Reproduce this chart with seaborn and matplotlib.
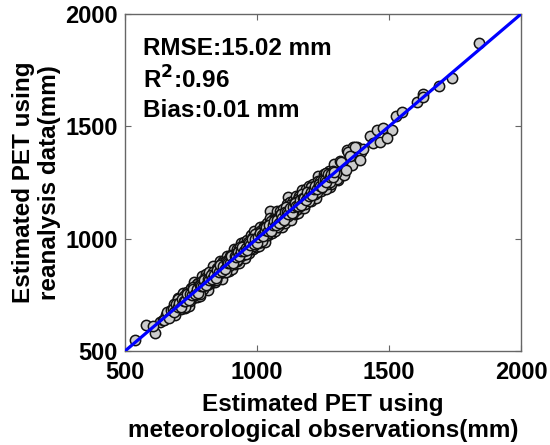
import matplotlib
matplotlib.use("Agg")
import matplotlib.pyplot as plt
import seaborn as sns
import pandas as pd

# Estimated PET: meteorological observations (x) vs reanalysis data (y), mm
obs_pet = [
    538, 580, 614, 633, 605, 645, 655, 662, 670, 678, 685, 690, 695, 700,
    705, 710, 715, 718, 722, 725, 730, 733, 738, 740, 744, 748, 752, 755, 758, 760,
    764, 767, 770, 773, 776, 779, 782, 785, 788, 790, 793, 796, 799,
    802, 805, 808, 811, 814, 817, 820, 823, 826, 829, 832, 835, 838, 840, 843, 846,
    849, 852, 855, 858, 861, 864, 867, 870, 873, 876, 879, 882, 885, 888, 891, 894,
    897, 900,
    903, 906, 909, 912, 915, 918, 921, 924, 927, 930, 933, 936, 939, 942, 945, 948,
    951, 954, 957, 960, 963, 966, 969, 972, 975, 978, 981, 984, 987, 990, 993, 996, 999,
    1002, 1005, 1008, 1011, 1014, 1017, 1020, 1023, 1026, 1029, 1032, 1035, 1038, 1041,
    1044, 1047, 1049, 1050, 1053, 1056, 1059, 1062, 1065, 1068, 1071, 1074, 1077, 1080,
    1083, 1086, 1089, 1092, 1095, 1098,
    1101, 1104, 1107, 1110, 1113, 1116, 1119, 1119, 1122, 1125, 1128, 1131, 1134, 1137,
    1140, 1143, 1146, 1149, 1152, 1155, 1158, 1161, 1164, 1167, 1170, 1173, 1176, 1179,
    1182, 1185, 1188, 1191, 1194, 1197,
    1200, 1205, 1210, 1215, 1220, 1225, 1230, 1235, 1240, 1245, 1250, 1255, 1260, 1265,
    1270, 1275, 1277, 1280, 1285, 1290, 1295, 1300,
    1305, 1307, 1310, 1316, 1322, 1328, 1335, 1340, 1342, 1348, 1355, 1362, 1365, 1368,
    1375, 1377, 1382, 1388, 1395, 1400,
    1428, 1453, 1479, 1510, 1441, 1466, 1491,
    1527, 1548, 1605, 1628, 1628, 1689, 1737, 1841,
    690, 702, 712, 720, 728, 735, 742, 750, 757, 763,
    771, 778, 784, 792, 798, 806, 813, 819, 827, 833,
    841, 847, 853, 860, 866, 872, 880, 886, 893, 899,
    905, 911, 918, 925, 931, 938, 944, 950, 956, 963,
    970, 976, 983, 989, 995, 1001, 1007, 1013, 1019, 1025,
    1031, 1037, 1043, 1051, 1058, 1064, 1070, 1076, 1082, 1088,
    1094, 1100, 1106, 1112, 1118, 1124, 1130, 1136, 1142, 1148,
    1154, 1160, 1166, 1172, 1178, 1184, 1190, 1196, 1203, 1212,
    1222, 1232, 1242, 1252, 1262, 1272, 1282, 1292, 1302, 1315,
    1330, 1345, 1358, 1372, 1390,
    708, 716, 724, 732, 740, 748, 756, 764, 772, 780,
    788, 796, 804, 812, 820, 828, 836, 844, 852, 860,
    868, 876, 884, 892, 900, 908, 916, 924, 932, 940,
    948, 956, 964, 972, 980, 988, 996, 1004, 1012, 1020,
    1028, 1036, 1044, 1052, 1060, 1068, 1076, 1084, 1092, 1100,
    1108, 1116, 1124, 1132, 1140, 1148, 1156, 1164, 1172, 1180,
    1188, 1196, 1206, 1218, 1230, 1242, 1254, 1266,
    648, 659, 667, 676, 684, 693, 701, 709, 717, 726,
    734, 743, 751, 759, 768, 776, 785, 793, 801, 810,
    818, 826, 835, 843, 851, 859, 867, 875, 884, 892,
    901, 909, 917, 926, 934, 942, 951, 959, 967, 976,
    984, 993, 1001, 1010, 1018, 1027, 1035, 1043, 1052, 1060,
    1069, 1077, 1086, 1094, 1103, 1111, 1120, 1128, 1137, 1145,
    1154, 1162, 1171, 1179, 1188, 1196, 1205, 1214, 1226, 1238,
    1250, 1262, 1275, 1288, 1300, 1318, 1336, 1352,
    681, 687, 693, 699, 705, 711, 717, 723, 729, 735,
    741, 747, 753, 759, 765, 771, 777, 783, 789, 795,
    801, 807, 813, 819, 825, 831, 837, 843, 849, 855,
    861, 867, 873, 879, 885, 891, 897, 903, 909, 915,
    921, 927, 933, 939, 945, 951, 957, 963, 969, 975,
    981, 987, 993, 999, 1005, 1011, 1017, 1023, 1029, 1035,
    1041, 1047, 1053, 1059, 1065, 1071, 1077, 1083, 1089, 1095,
    1101, 1107, 1113, 1119, 1125, 1131, 1137, 1143, 1149, 1155,
    1161, 1167, 1173, 1179, 1185, 1191, 1197, 1203, 1209, 1215,
    1221, 1227, 1233, 1239, 1245, 1251, 1257, 1263, 1269, 1275,
    1281, 1287, 1293,
]
rean_pet = [
    549, 616, 581, 630, 612, 640, 662, 650, 675, 668, 690, 680, 702, 695,
    712, 700, 725, 710, 730, 718, 722, 745, 728, 748, 735, 760, 740, 752, 770, 748,
    758, 775, 762, 768, 790, 770, 778, 800, 775, 785, 805, 790, 792,
    812, 798, 818, 805, 826, 810, 815, 840, 818, 825, 845, 828, 832, 855, 835, 850,
    842, 865, 848, 852, 875, 858, 866, 880, 862, 872, 895, 875, 880, 900, 882, 890,
    912, 893,
    905, 925, 900, 915, 930, 910, 918, 940, 920, 928, 948, 930, 935, 960, 938, 945,
    968, 948, 955, 975, 955, 962, 985, 965, 970, 995, 975, 982, 1005, 985, 988, 1015, 992,
    1000, 1025, 1000, 1008, 1030, 1012, 1018, 1040, 1020, 1026, 1048, 1030, 1035, 1055,
    1038, 1042, 1124, 1062, 1045, 1052, 1070, 1055, 1060, 1080, 1065, 1070, 1088, 1072,
    1078, 1098, 1082, 1085, 1105, 1090,
    1098, 1115, 1100, 1105, 1122, 1108, 1187, 1112, 1135, 1118, 1120, 1140, 1126, 1130,
    1150, 1135, 1140, 1158, 1142, 1148, 1165, 1150, 1155, 1172, 1160, 1165, 1180, 1168,
    1172, 1190, 1178, 1182, 1198, 1188,
    1195, 1215, 1200, 1210, 1228, 1215, 1222, 1240, 1230, 1238, 1255, 1245, 1252, 1270,
    1258, 1268, 1231, 1285, 1275, 1282, 1300, 1290,
    1300, 1261, 1320, 1305, 1318, 1335, 1325, 1395, 1338, 1355, 1345, 1360, 1409, 1372,
    1365, 1409, 1380, 1392, 1385, 1398,
    1457, 1484, 1491, 1484, 1424, 1431, 1446,
    1546, 1565, 1609, 1644, 1630, 1679, 1716, 1872,
    660, 737, 687, 760, 693, 763, 702, 782, 735, 808,
    741, 803, 746, 832, 770, 841, 771, 849, 802, 878,
    806, 869, 823, 900, 821, 902, 852, 924, 858, 924,
    865, 953, 888, 953, 893, 983, 919, 985, 914, 993,
    935, 1016, 955, 1034, 965, 1026, 967, 1051, 984, 1055,
    986, 1072, 1015, 1091, 1026, 1092, 1032, 1121, 1052, 1123,
    1054, 1130, 1071, 1154, 1090, 1162, 1085, 1166, 1110, 1188,
    1116, 1188, 1136, 1217, 1138, 1219, 1162, 1234, 1168, 1242,
    1182, 1277, 1212, 1287, 1220, 1300, 1244, 1332, 1267, 1345,
    1285, 1385, 1328, 1407, 1350,
    726, 701, 746, 712, 752, 723, 776, 752, 797, 762,
    803, 774, 824, 802, 844, 812, 848, 820, 870, 846,
    890, 856, 900, 880, 925, 890, 930, 902, 952, 925,
    966, 931, 976, 952, 1002, 974, 1012, 980, 1032, 1008,
    1053, 1018, 1058, 1032, 1082, 1052, 1094, 1059, 1104, 1078,
    1128, 1102, 1148, 1114, 1155, 1128, 1178, 1152, 1190, 1156,
    1204, 1176, 1228, 1200, 1255, 1227, 1274, 1244,
    640, 673, 647, 682, 710, 681, 731, 704, 727, 698,
    752, 746, 735, 787, 762, 788, 755, 813, 803, 792,
    850, 817, 850, 817, 859, 881, 853, 879, 852, 908,
    928, 899, 923, 904, 964, 938, 963, 931, 987, 977,
    967, 1019, 993, 1024, 988, 1049, 1040, 1024, 1080, 1050,
    1081, 1051, 1104, 1097, 1088, 1141, 1113, 1138, 1113, 1165,
    1158, 1144, 1198, 1167, 1196, 1167, 1229, 1216, 1210, 1258,
    1240, 1292, 1253, 1300, 1294, 1343, 1306, 1370,
    686, 675, 709, 696, 714, 694, 730, 724, 721, 754,
    727, 754, 751, 774, 755, 775, 759, 794, 789, 789,
    818, 794, 821, 818, 839, 822, 840, 827, 861, 851,
    881, 856, 879, 864, 895, 893, 890, 921, 890, 924,
    918, 940, 921, 944, 961, 943, 958, 949, 980, 970,
    1000, 977, 1000, 982, 1009, 1025, 1015, 1010, 1037, 1052,
    1035, 1059, 1035, 1062, 1080, 1062, 1083, 1072, 1109, 1094,
    1085, 1117, 1118, 1112, 1138, 1116, 1139, 1161, 1145, 1145,
    1172, 1148, 1182, 1180, 1173, 1207, 1192, 1210, 1195, 1219,
    1236, 1219, 1245, 1236, 1228, 1261, 1263, 1252, 1288, 1273,
    1289, 1274, 1296,
]

line_x = [500, 2000]
line_y = [500, 2000]

x_ticks = [500, 1000, 1500, 2000]
y_ticks = [500, 1000, 1500, 2000]

df = pd.DataFrame({"obs": obs_pet, "rean": rean_pet})
lines = pd.DataFrame({"x": line_x, "y": line_y})

sns.set_theme(style="white")
plt.rcParams["font.family"] = ["Liberation Sans", "DejaVu Sans"]
plt.rcParams["font.weight"] = "bold"
plt.rcParams["text.color"] = "black"
plt.rcParams["axes.labelcolor"] = "black"
plt.rcParams["xtick.labelcolor"] = "black"
plt.rcParams["ytick.labelcolor"] = "black"

fig = plt.figure(figsize=(5.5, 4.45), dpi=100)
ax = fig.add_axes([0.2273, 0.2112, 0.72, 0.7573])

sns.scatterplot(data=df, x="obs", y="rean", ax=ax, s=55, color="#cccccc",
                edgecolor="#111111", linewidth=1.1, zorder=2, legend=False)
sns.lineplot(data=lines, x="x", y="y", ax=ax, color="#0000ff", linewidth=2.3,
             zorder=3, legend=False)

ax.set_xlim(500, 2000)
ax.set_ylim(500, 2000)
ax.set_xticks(x_ticks)
ax.set_yticks(y_ticks)
ax.set_xticklabels([str(t) for t in x_ticks], fontsize=17, fontweight="bold")
ax.set_yticklabels([str(t) for t in y_ticks], fontsize=17, fontweight="bold")
ax.tick_params(direction="in", length=4, width=0.8, color="#666666",
               labelcolor="black", top=True, right=True, bottom=True, left=True)
ax.tick_params(axis="x", pad=7)
ax.tick_params(axis="y", pad=5)
for sp in ax.spines.values():
    sp.set_color("#666666")
    sp.set_linewidth(1.0)

ax.set_xlabel("Estimated PET using\nmeteorological observations(mm)",
              fontsize=17.5, fontweight="bold", labelpad=7, linespacing=1.13,
              color="black")
ax.set_ylabel("Estimated PET using\nreanalysis data(mm)",
              fontsize=17.5, fontweight="bold", labelpad=3, linespacing=1.2,
              color="black")

ax.text(0.045, 0.878, "RMSE:15.02 mm", transform=ax.transAxes,
        fontsize=17.5, fontweight="bold", va="baseline", color="black")
ax.text(0.045, 0.780, r"R$^{\mathbf{2}}$:0.96", transform=ax.transAxes,
        fontsize=17.5, fontweight="bold", va="baseline", color="black")
ax.text(0.045, 0.694, "Bias:0.01 mm", transform=ax.transAxes,
        fontsize=17.5, fontweight="bold", va="baseline", color="black")

fig.savefig("out.png", dpi=100)
